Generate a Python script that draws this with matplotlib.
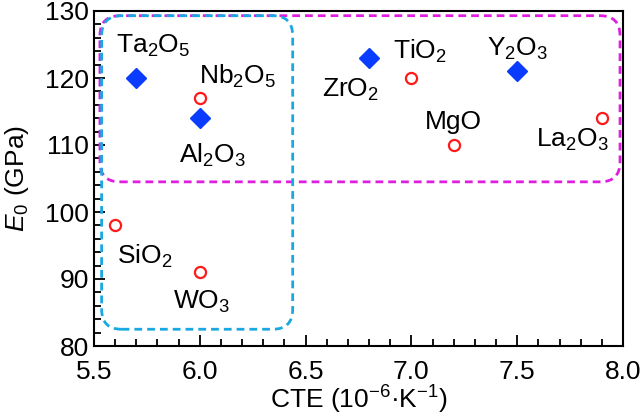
import matplotlib.pyplot as plt
from matplotlib.patches import FancyBboxPatch
from matplotlib.ticker import MultipleLocator

plt.rcParams['font.family'] = ['Liberation Sans', 'DejaVu Sans']
plt.rcParams['mathtext.fontset'] = 'custom'
plt.rcParams['mathtext.rm'] = 'Liberation Sans'
plt.rcParams['mathtext.it'] = 'Liberation Sans:italic'

# oxidos con diamante azul
dia_names = ["Ta$_2$O$_5$", "Al$_2$O$_3$", "ZrO$_2$", "Y$_2$O$_3$"]
dia_cte = [5.7, 6.0, 6.8, 7.5]
dia_e0 = [120, 114, 123, 121]

# oxidos con circulo rojo
cir_names = ["Nb$_2$O$_5$", "TiO$_2$", "MgO", "La$_2$O$_3$", "SiO$_2$", "WO$_3$"]
cir_cte = [6.0, 7.0, 7.2, 7.9, 5.6, 6.0]
cir_e0 = [117, 120, 110, 114, 98, 91]

# posiciones de etiquetas (centro del texto)
dia_lbl = [(5.78, 124.8), (6.06, 108.5), (6.71, 118.2), (7.50, 124.4)]
cir_lbl = [(6.18, 120.2), (7.04, 124.0), (7.20, 113.5), (7.76, 110.7),
           (5.74, 93.3), (6.01, 86.6)]

fig = plt.figure(figsize=(6.4, 4.2), dpi=100)
ax = fig.add_axes([94 / 640, 1 - 346 / 420, 529 / 640, 335 / 420])

ax.set_xlim(5.5, 8.0)
ax.set_ylim(80, 130)

# relacion de aspecto px para esquinas redondeadas
asp = (50 / 335) / (2.5 / 529)
r = 20 * 2.5 / 529

cyan = FancyBboxPatch((5.536, 82.5), 6.439 - 5.536, 129.3 - 82.5,
                      boxstyle=f"round,pad=0,rounding_size={r}",
                      mutation_aspect=asp, fill=False, ec="#1aa8e0",
                      lw=2, ls=(0, (2.8, 1.8)), zorder=2)
mag = FancyBboxPatch((5.528, 104.5), 7.986 - 5.528, 129.3 - 104.5,
                     boxstyle=f"round,pad=0,rounding_size={r}",
                     mutation_aspect=asp, fill=False, ec="#e01ee0",
                     lw=2, ls=(0, (2.8, 1.8)), zorder=2)
ax.add_patch(mag)
ax.add_patch(cyan)

ax.plot(dia_cte, dia_e0, ls="none", marker="D", ms=10.5, color="#0a3cff",
        mec="#0a3cff", zorder=3)
ax.plot(cir_cte, cir_e0, ls="none", marker="o", ms=8, mfc="white",
        mec="#ff1a1a", mew=1.6, zorder=3)

for name, (x, y) in zip(dia_names, dia_lbl):
    ax.text(x, y, name, ha="center", va="center", fontsize=19)
for name, (x, y) in zip(cir_names, cir_lbl):
    ax.text(x, y, name, ha="center", va="center", fontsize=19)

ax.xaxis.set_major_locator(MultipleLocator(0.5))
ax.xaxis.set_minor_locator(MultipleLocator(0.1))
ax.yaxis.set_major_locator(MultipleLocator(10))
ax.yaxis.set_minor_locator(MultipleLocator(2))
ax.xaxis.set_major_formatter(plt.FormatStrFormatter("%.1f"))
ax.tick_params(which="both", direction="in", top=False, right=False,
               labelsize=19, width=1.3)
ax.tick_params(axis="x", pad=10)
ax.tick_params(which="major", length=8)
ax.tick_params(which="minor", length=5)
for s in ax.spines.values():
    s.set_linewidth(1.5)

ax.set_xlabel("CTE (10$^{−6}$·K$^{−1}$)", fontsize=19, labelpad=0)
ax.set_ylabel("$E$$_0$ (GPa)", fontsize=19, labelpad=10)

fig.savefig("out.png", dpi=100)
